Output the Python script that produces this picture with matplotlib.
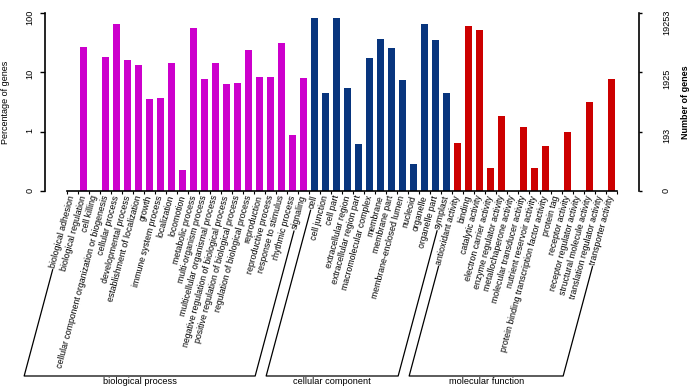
import matplotlib

matplotlib.use("Agg")

import matplotlib.pyplot as plt
import numpy as np
from matplotlib.lines import Line2D
from matplotlib.ticker import FixedLocator, NullLocator

W, H, DPI = 693, 388, 100

bp_terms = [
    "biological adhesion", "biological regulation", "cell killing",
    "cellular component organization or biogenesis", "cellular process",
    "developmental process", "establishment of localization", "growth",
    "immune system process", "localization", "locomotion", "metabolic process",
    "multi-organism process", "multicellular organismal process",
    "negative regulation of biological process",
    "positive regulation of biological process",
    "regulation of biological process", "reproduction", "reproductive process",
    "response to stimulus", "rhythmic process", "signaling",
]
bp_values = [0, 27.1, 0, 18.4, 66, 15.9, 13.5, 3.5, 3.7, 14.6, 0.226, 56,
             7.6, 14.6, 6.45, 6.7, 24.1, 8.5, 8.5, 30.8, 0.88, 8.1]

cc_terms = [
    "cell", "cell junction", "cell part", "extracellular region",
    "extracellular region part", "macromolecular complex", "membrane",
    "membrane part", "membrane-enclosed lumen", "nucleoid", "organelle",
    "organelle part", "symplast",
]
cc_values = [82.6, 4.43, 82.6, 5.46, 0.62, 17.5, 36.6, 26.1, 7.5, 0.28,
             65.5, 35.6, 4.43]

mf_terms = [
    "antioxidant activity", "binding", "catalytic activity",
    "electron carrier activity", "enzyme regulator activity",
    "metallochaperone activity", "molecular transducer activity",
    "nutrient reservoir activity",
    "protein binding transcription factor activity", "protein tag",
    "receptor activity", "receptor regulator activity",
    "structural molecule activity", "translation regulator activity",
    "transporter activity",
]
mf_values = [0.635, 61.3, 51.9, 0.247, 1.81, 0, 1.21, 0.247, 0.58, 0, 1.0,
             0, 3.17, 0, 7.73]

group_names = ["biological process", "cellular component", "molecular function"]
group_colors = ["#CC00CC", "#08357E", "#CC0000"]

pct_ticks = [0.1, 1, 10, 100]
pct_labels = ["0", "1", "10", "100"]
count_labels = ["0", "193", "1925", "19253"]

plt.rcParams["font.family"] = ["Liberation Sans", "DejaVu Sans"]
FS = 6.3
ANGLE = 75
LABEL_OFFSET = 3.3  # points below the baseline


def fig_frac(px, py_top):
    return px / W, 1 - py_top / H


groups = [(bp_terms, bp_values), (cc_terms, cc_values), (mf_terms, mf_values)]
terms, values, colors, spans = [], [], [], []
for (g_terms, g_values), col in zip(groups, group_colors):
    spans.append((len(terms), len(terms) + len(g_terms) - 1))
    terms += g_terms
    values += g_values
    colors += [col] * len(g_terms)

x = np.arange(len(terms))
heights = [v - 0.1 if v > 0 else 0 for v in values]

fig = plt.figure(figsize=(W / DPI, H / DPI), dpi=DPI)
ax = fig.add_axes([45 / W, 1 - 191 / H, (639 - 45) / W, (191 - 13) / H])
ax.bar(x, heights, bottom=0.1, width=0.7, color=colors)
ax.set_yscale("log")
ax.set_ylim(0.1, 100)
ax.set_xlim(-2.5, len(terms) + 1.5)

ax.spines["top"].set_visible(False)
ax.spines["right"].set_visible(False)
ax.spines["left"].set_linewidth(1.2)
ax.spines["bottom"].set_linewidth(1.2)
ax.spines["bottom"].set_bounds(-0.5, len(terms) - 0.5)

ax.yaxis.set_major_locator(FixedLocator(pct_ticks))
ax.yaxis.set_minor_locator(NullLocator())
ax.set_yticklabels(pct_labels)
ax.tick_params(axis="y", length=3.6, width=1.0, pad=4, labelsize=6.6, labelrotation=90)
ax.set_xticks(np.arange(-0.5, len(terms)), labels=[])
ax.tick_params(axis="x", length=2.2, width=0.8)

ax2 = ax.twinx()
ax2.set_yscale("log")
ax2.set_ylim(0.1, 100)
for side in ["top", "bottom", "left"]:
    ax2.spines[side].set_visible(False)
ax2.spines["right"].set_linewidth(1.2)
ax2.yaxis.set_major_locator(FixedLocator(pct_ticks))
ax2.yaxis.set_minor_locator(NullLocator())
ax2.set_yticklabels(count_labels)
ax2.tick_params(axis="y", length=2.5, width=1.0, pad=14, labelsize=6.6, labelrotation=90)

fig.text(*fig_frac(6, 102), "Percentage of genes", rotation=90, ha="center",
         va="center", fontsize=6.5)
fig.text(*fig_frac(686, 102), "Number of genes", rotation=90, ha="center",
         va="center", fontsize=6.5, fontweight="bold")

label_artists = []
for i, term in enumerate(terms):
    t = ax.annotate(term, xy=(i, 0.1), xycoords="data", xytext=(0, -LABEL_OFFSET),
                    textcoords="offset points", rotation=ANGLE, rotation_mode="anchor",
                    ha="right", va="center", fontsize=FS, annotation_clip=False)
    label_artists.append(t)

# group brackets, continuing the first and last label of each group down
fig.canvas.draw()
renderer = fig.canvas.get_renderer()
direction = np.array([np.cos(np.radians(ANGLE)), np.sin(np.radians(ANGLE))])
bottom_disp = H - 376
to_fig = fig.transFigure.inverted()


def bracket_foot(idx):
    art = label_artists[idx]
    w, _, _ = renderer.get_text_width_height_descent(
        art.get_text(), art.get_fontproperties(), ismath=False)
    anchor = ax.transData.transform((idx, 0.1)) - np.array([0, LABEL_OFFSET * DPI / 72])
    start = anchor - (w + 2) * direction
    foot = np.array([start[0] - (start[1] - bottom_disp) / np.tan(np.radians(ANGLE)),
                     bottom_disp])
    return start, foot


for (lo, hi), name in zip(spans, group_names):
    s_lo, f_lo = bracket_foot(lo)
    s_hi, f_hi = bracket_foot(hi)
    pts = to_fig.transform(np.array([s_lo, f_lo, f_hi, s_hi]))
    fig.add_artist(Line2D(pts[:, 0], pts[:, 1], color="black", linewidth=0.9))
    mid = to_fig.transform(((f_lo[0] + f_hi[0]) / 2, H - 382))
    fig.text(mid[0], mid[1], name, ha="center", va="center", fontsize=6.7)

fig.savefig("out.png", dpi=DPI)
plt.close(fig)
